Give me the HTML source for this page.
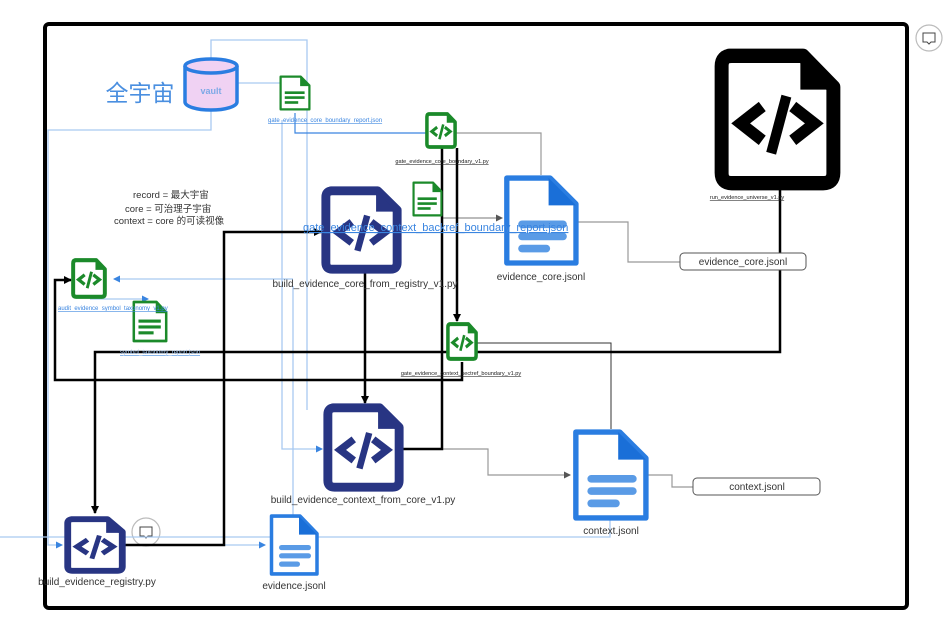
<!DOCTYPE html>
<html><head><meta charset="utf-8"><style>
html,body{margin:0;padding:0;background:#fff;}
svg{display:block;font-family:"Liberation Sans","Noto Sans CJK SC",sans-serif;}
</style></head><body>
<svg width="948" height="626" viewBox="0 0 948 626" xmlns="http://www.w3.org/2000/svg">
<defs>
<symbol id="code" viewBox="0 0 100 110" preserveAspectRatio="none">
<path d="M12,6 H70 L94,30 V96 Q94,104 86,104 H14 Q6,104 6,96 V14 Q6,6 14,6 Z" fill="#fff" stroke="currentColor" stroke-width="11" stroke-linejoin="round"/>
<path d="M68,6 V32 H94 Z" fill="currentColor"/>
<polyline points="38,45 21,58 38,71" fill="none" stroke="currentColor" stroke-width="9"/>
<line x1="57" y1="37" x2="45" y2="81" stroke="currentColor" stroke-width="8"/>
<polyline points="62,45 79,58 62,71" fill="none" stroke="currentColor" stroke-width="9"/>
</symbol>
<symbol id="gdoc" viewBox="0 0 100 110" preserveAspectRatio="none">
<path d="M5,5 H68 L95,32 V105 H5 Z" fill="#fff" stroke="#1b8a2a" stroke-width="7" stroke-linejoin="round"/>
<path d="M66,5 V34 H95 Z" fill="#1b8a2a"/>
<rect x="18" y="50" width="62" height="8" fill="#1b8a2a"/>
<rect x="18" y="65" width="62" height="8" fill="#1b8a2a"/>
<rect x="18" y="80" width="42" height="8" fill="#1b8a2a"/>
</symbol>
<symbol id="bdoc" viewBox="0 0 100 120" preserveAspectRatio="none">
<path d="M5,4 H62 L96,38 V116 H5 Z" fill="#fff" stroke="#2a7de1" stroke-width="7" stroke-linejoin="round"/>
<path d="M60,4 V40 H96 Z" fill="#1a6fd8"/>
<rect x="20" y="60" width="64" height="10" rx="5" fill="#5a9be6"/>
<rect x="20" y="76" width="64" height="10" rx="5" fill="#5a9be6"/>
<rect x="20" y="92" width="42" height="10" rx="5" fill="#5a9be6"/>
</symbol>
<marker id="ab" markerWidth="8" markerHeight="8" refX="7" refY="4" orient="auto" markerUnits="userSpaceOnUse"><path d="M0,0 L8,4 L0,8 Z" fill="#000"/></marker>
<marker id="ag" markerWidth="7" markerHeight="7" refX="6" refY="3.5" orient="auto" markerUnits="userSpaceOnUse"><path d="M0,0 L7,3.5 L0,7 Z" fill="#555"/></marker>
<marker id="al" markerWidth="7" markerHeight="7" refX="6" refY="3.5" orient="auto" markerUnits="userSpaceOnUse"><path d="M0,0 L7,3.5 L0,7 Z" fill="#3a85e0"/></marker>
</defs>

<rect x="45" y="24" width="862" height="584" rx="4" fill="none" stroke="#000" stroke-width="4"/>
<circle cx="929" cy="38" r="13" fill="#fff" stroke="#bbb" stroke-width="1.2"/>
<path d="M923,33 H935 V42 H931 L929,44 L927,42 H923 Z" fill="none" stroke="#444" stroke-width="1"/>
<circle cx="146" cy="532" r="14" fill="#fff" stroke="#bbb" stroke-width="1.2"/>
<path d="M140,527 H152 V536 H148 L146,538 L144,536 H140 Z" fill="none" stroke="#444" stroke-width="1"/>

<g fill="none" stroke="#a9c9f0" stroke-width="1.3">
<path d="M211,58 V40 H307 V410"/>
<path d="M211,110 V130 H48 V545 H62" marker-end="url(#al)"/>
<path d="M0,537 H610 V520"/>
<path d="M237,83 H280"/>
<path d="M282,120 V449 H322" marker-end="url(#al)"/>
<path d="M293,286 V515"/>
<path d="M293,279 H114" marker-end="url(#al)"/>
<path d="M90,299 H148" marker-end="url(#al)"/>
<path d="M125,545 H265" marker-end="url(#al)"/>
</g>
<path d="M295,113 V133 H427" fill="none" stroke="#3a85e0" stroke-width="1.2"/>
<path d="M442,218 H502" fill="none" stroke="#777" stroke-width="1" marker-end="url(#ag)"/>

<g fill="none" stroke="#999" stroke-width="1.2">
<path d="M456,133 H541 V175"/>
<path d="M578,222 H628 V262 H680"/>
<path d="M402,449 H488 V475 H570" marker-end="url(#ag)"/>
<path d="M648,475 H672 V487 H693"/>
</g>
<path d="M477,343 H611 V429" fill="none" stroke="#333" stroke-width="1"/>

<g fill="none" stroke="#000" stroke-width="2.5">
<path d="M780,188 V352 H95 V513" marker-end="url(#ab)"/>
<path d="M462,362 V380 H55 V280 H71" marker-end="url(#ab)"/>
<path d="M125,545 H224 V232 H321" marker-end="url(#ab)"/>
<path d="M365,272 V403" marker-end="url(#ab)"/>
<path d="M457,148 V321" marker-end="url(#ab)"/>
<path d="M402,449 H442 V148"/>
</g>

<path d="M185,66 V102 A26,8 0 0 0 237,102 V66" fill="#f0d2f3" stroke="#2a7de1" stroke-width="3.5"/>
<ellipse cx="211" cy="66" rx="26" ry="7" fill="#f0d2f3" stroke="#2a7de1" stroke-width="3.5"/>
<text x="211" y="94" font-size="9" fill="#7da9e6" text-anchor="middle" font-weight="bold">vault</text>
<text x="140" y="101" font-size="23" fill="#4a8fe0" text-anchor="middle">全宇宙</text>

<g font-size="9.5" fill="#333">
<text x="133" y="198">record  = 最大宇宙</text>
<text x="125" y="212">core    = 可治理子宇宙</text>
<text x="114" y="224">context = core 的可读视像</text>
</g>

<use href="#gdoc" x="279" y="75" width="32" height="36"/>
<use href="#code" x="425" y="112" width="32" height="37" color="#1b8a2a"/>
<use href="#gdoc" x="412" y="181" width="31" height="36"/>
<use href="#bdoc" x="503" y="175" width="76" height="91"/>
<use href="#code" x="714" y="48" width="127" height="143" color="#000"/>
<use href="#code" x="321" y="186" width="81" height="88" color="#283583"/>
<use href="#code" x="71" y="258" width="36" height="41" color="#1b8a2a"/>
<use href="#gdoc" x="132" y="300" width="36" height="43"/>
<use href="#code" x="446" y="322" width="32" height="39" color="#1b8a2a"/>
<use href="#code" x="323" y="403" width="81" height="89" color="#283583"/>
<use href="#bdoc" x="572" y="429" width="77" height="92"/>
<use href="#code" x="64" y="516" width="62" height="58" color="#283583"/>
<use href="#bdoc" x="269" y="514" width="50" height="62"/>

<g font-size="6" fill="#3a85e0" text-decoration="underline">
<text x="268" y="122">gate_evidence_core_boundary_report.json</text>
<text x="58" y="310">audit_evidence_symbol_taxonomy_v1.py</text>
<text x="120" y="354" fill="#9cc0ec">symbol_taxonomy_report.json</text>
</g>
<text x="303" y="231" font-size="11" fill="#3a85e0" text-decoration="underline">gate_evidence_context_backref_boundary_report.json</text>
<g font-size="5.6" fill="#222" text-decoration="underline" text-anchor="middle">
<text x="442" y="163">gate_evidence_core_boundary_v1.py</text>
<text x="461" y="375">gate_evidence_context_sectref_boundary_v1.py</text>
<text x="747" y="199">run_evidence_universe_v1.py</text>
</g>
<g font-size="10" fill="#333" text-anchor="middle">
<text x="365" y="287">build_evidence_core_from_registry_v1.py</text>
<text x="541" y="280">evidence_core.jsonl</text>
<text x="363" y="503">build_evidence_context_from_core_v1.py</text>
<text x="611" y="534">context.jsonl</text>
<text x="97" y="585">build_evidence_registry.py</text>
<text x="294" y="589">evidence.jsonl</text>
</g>
<rect x="680" y="253" width="126" height="17" rx="4" fill="#fff" stroke="#555" stroke-width="1"/>
<text x="743" y="265" font-size="10" fill="#333" text-anchor="middle">evidence_core.jsonl</text>
<rect x="693" y="478" width="127" height="17" rx="4" fill="#fff" stroke="#555" stroke-width="1"/>
<text x="757" y="490" font-size="10" fill="#333" text-anchor="middle">context.jsonl</text>
</svg>
</body></html>
